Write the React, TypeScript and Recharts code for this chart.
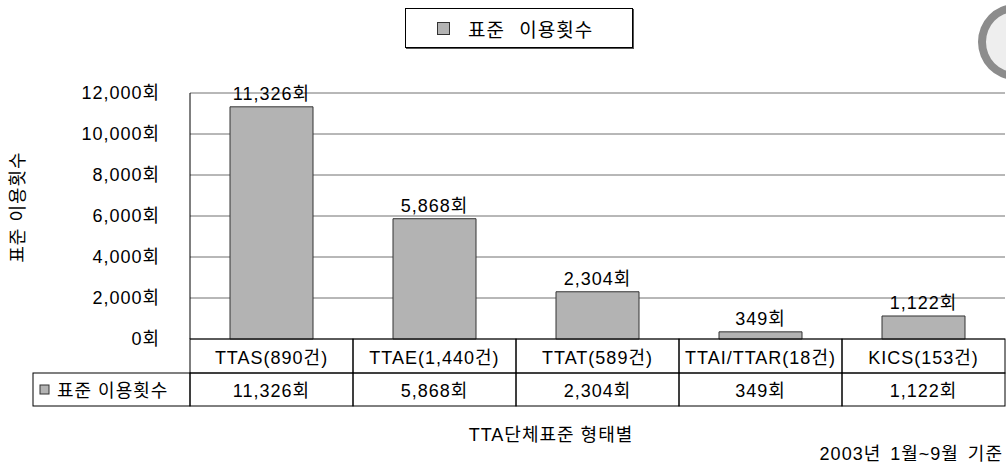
import React from 'react';
import { BarChart, Bar, XAxis, YAxis, CartesianGrid, LabelList } from 'recharts';

const categories = ['TTAS(890건)', 'TTAE(1,440건)', 'TTAT(589건)', 'TTAI/TTAR(18건)', 'KICS(153건)'];
const usageCounts = [11326, 5868, 2304, 349, 1122];
const yTicks = [0, 2000, 4000, 6000, 8000, 10000, 12000];
const seriesName = '표준 이용횟수';
const axisTitle = 'TTA단체표준 형태별';
const periodNote = '2003년 1월~9월 기준';

const chartData = categories.map((name, i) => ({ name, value: usageCounts[i] }));

const FONT = "'Liberation Sans', 'Noto Sans CJK KR', sans-serif";
const BAR_FILL = '#b3b3b3';

const fmt = (v: number) => `${Number(v).toLocaleString('en-US')}회`;

// draws one column of the data table under the plot (category row + value row)
const TableTick = (props: any) => {
  const { x, y, payload, index } = props;
  const half = payload && payload.offset ? payload.offset : 81.5;
  const row = chartData.find((d) => d.name === payload.value);
  const r1 = 34;
  const r2 = 33;
  return (
    <g fontFamily={FONT} fontSize={18} fill="#000">
      <rect x={x - half} y={y} width={half * 2} height={r1} fill="none" stroke="#000" />
      <text x={x} y={y + 25} textAnchor="middle" fill="#000">{payload.value}</text>
      <rect x={x - half} y={y + r1} width={half * 2} height={r2} fill="none" stroke="#000" />
      <text x={x} y={y + r1 + 24} textAnchor="middle" fill="#000">{row ? fmt(row.value) : ''}</text>
      {index === 0 && (
        <g>
          <rect x={x - half - 157} y={y + r1} width={157} height={r2} fill="none" stroke="#000" />
          <rect x={x - half - 150} y={y + r1 + 12} width={9} height={9} fill={BAR_FILL} stroke="#333" />
          <text x={x - half - 133} y={y + r1 + 24} fill="#000">{seriesName}</text>
        </g>
      )}
    </g>
  );
};

const YTitle = (props: any) => {
  const vb = props.viewBox || { x: 0, y: 0, height: 0 };
  const cx = vb.x + 18;
  const cy = vb.y + vb.height / 2 - 9;
  return (
    <text
      x={cx}
      y={cy}
      transform={`rotate(-90 ${cx} ${cy})`}
      textAnchor="middle"
      dominantBaseline="central"
      fontFamily={FONT}
      fontSize={18}
      fill="#000"
    >
      {seriesName}
    </text>
  );
};

export default function App() {
  return (
    <div
      style={{
        position: 'absolute',
        left: 0,
        top: 0,
        width: 1006,
        height: 468,
        background: '#fff',
        overflow: 'hidden',
        fontFamily: FONT,
        letterSpacing: 1,
      }}
    >
      {/* legend box */}
      <div
        style={{
          position: 'absolute',
          left: 405,
          top: 8,
          width: 226,
          height: 38,
          border: '1px solid #000',
          boxShadow: '1px 1px 0 #555',
          display: 'flex',
          alignItems: 'center',
          fontSize: 19,
        }}
      >
        <span
          style={{
            display: 'inline-block',
            width: 11,
            height: 11,
            background: BAR_FILL,
            border: '1px solid #333',
            marginLeft: 31,
            marginRight: 18,
          }}
        />
        <span style={{ wordSpacing: 8 }}>{seriesName}</span>
      </div>

      {/* scanned decoration in the corner */}
      <div
        style={{
          position: 'absolute',
          left: 978,
          top: 4,
          width: 58,
          height: 60,
          borderRadius: '50%',
          border: '8px solid #8c8c8c',
          background: '#eeeeee',
        }}
      />

      <BarChart
        width={1006}
        height={468}
        data={chartData}
        margin={{ top: 93, right: 1, bottom: 62, left: 0 }}
        style={{ position: 'absolute', left: 0, top: 0 }}
      >
        <CartesianGrid vertical={false} stroke="#707070" />
        <XAxis
          dataKey="name"
          interval={0}
          height={67}
          tickSize={0}
          tickMargin={0}
          tickLine={false}
          axisLine={false}
          tick={(p: any) => <TableTick {...p} />}
        />
        <YAxis
          width={190}
          domain={[0, 12000]}
          ticks={yTicks}
          tickFormatter={fmt}
          tickLine={false}
          tickSize={0}
          tickMargin={30}
          axisLine={{ stroke: '#000' }}
          tick={{ fill: '#000', fontSize: 18, fontFamily: FONT }}
          label={(p: any) => <YTitle {...p} />}
        />
        <Bar dataKey="value" name={seriesName} fill={BAR_FILL} stroke="#333" barSize={83} isAnimationActive={false}>
          <LabelList
            dataKey="value"
            position="top"
            offset={7}
            formatter={(v: any) => fmt(v)}
            fill="#000"
            fontSize={18}
            fontFamily={FONT}
          />
        </Bar>
      </BarChart>

      <div
        style={{
          position: 'absolute',
          left: 0,
          width: 1006,
          top: 425,
          lineHeight: '20px',
          textAlign: 'center',
          fontSize: 18,
          paddingLeft: 96,
          boxSizing: 'border-box',
          color: '#000',
        }}
      >
        {axisTitle}
      </div>
      <div
        style={{
          position: 'absolute',
          right: 3,
          top: 444,
          lineHeight: '20px',
          fontSize: 18,
          color: '#000',
          wordSpacing: 3,
        }}
      >
        {periodNote}
      </div>
    </div>
  );
}
